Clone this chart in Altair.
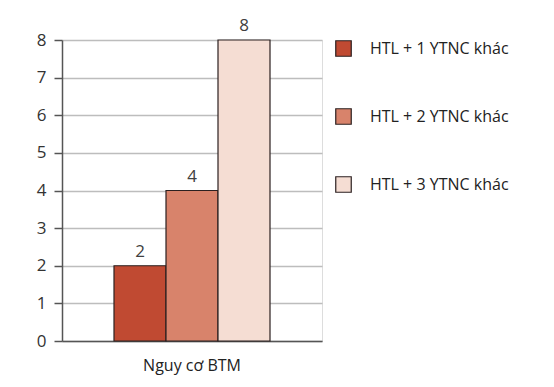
import altair as alt
import pandas as pd

categories = ["Nguy cơ BTM"]
series = ["HTL + 1 YTNC khác", "HTL + 2 YTNC khác", "HTL + 3 YTNC  khác"]
values = [2, 4, 8]
y_ticks = [0, 1, 2, 3, 4, 5, 6, 7, 8]
colors = ["#C04A32", "#D8836B", "#F5DDD3"]

df = pd.DataFrame({
    "cat": [categories[0]] * len(series),
    "series": series,
    "value": values,
})

FONT = "Open Sans"

x = alt.X("cat:N", title=None,
          scale=alt.Scale(paddingOuter=0.3333, paddingInner=0),
          axis=alt.Axis(labelAngle=0, ticks=False, domainColor="#555555", domainWidth=1.5,
                        labelFont=FONT, labelFontSize=16, labelColor="#222222", labelPadding=16))
xo = alt.XOffset("series:N", sort=series, scale=alt.Scale(paddingInner=0, paddingOuter=0))
y = alt.Y("value:Q", title=None,
          scale=alt.Scale(domain=[0, 8], nice=False),
          axis=alt.Axis(values=y_ticks, labelOverlap=False, tickCount=9,
                        tickSize=8, tickColor="#555555", tickWidth=1.5,
                        domainColor="#555555", domainWidth=1.5,
                        gridColor="#BDBDBD", gridWidth=1.5,
                        labelFont=FONT, labelFontSize=17, labelColor="#333333", labelPadding=8))

bars = alt.Chart(df).mark_bar(stroke="#2b2020", strokeWidth=1.2).encode(
    x=x, xOffset=xo, y=y,
    color=alt.Color("series:N", sort=series, title=None,
                    scale=alt.Scale(domain=series, range=colors),
                    legend=alt.Legend(orient="right", offset=13, padding=0,
                                      symbolType="square", symbolSize=240,
                                      symbolStrokeColor="#2b2020", symbolStrokeWidth=1.2,
                                      labelFont=FONT, labelFontSize=16, labelColor="#222222",
                                      labelOffset=18, rowPadding=47)),
)

labels = alt.Chart(df).mark_text(dy=-14, font=FONT, fontSize=17, color="#404040").encode(
    x=x, xOffset=xo, y=y,
    text=alt.Text("value:Q"),
)

chart = (bars + labels).properties(
    width=260, height=301,
    autosize=alt.AutoSizeParams(type="none"),
    padding={"left": 54, "top": 32, "right": 220, "bottom": 36},
).configure_view(stroke=None).configure(background="white")

chart.save("out.html", embed_options={"renderer": "svg", "actions": False})
